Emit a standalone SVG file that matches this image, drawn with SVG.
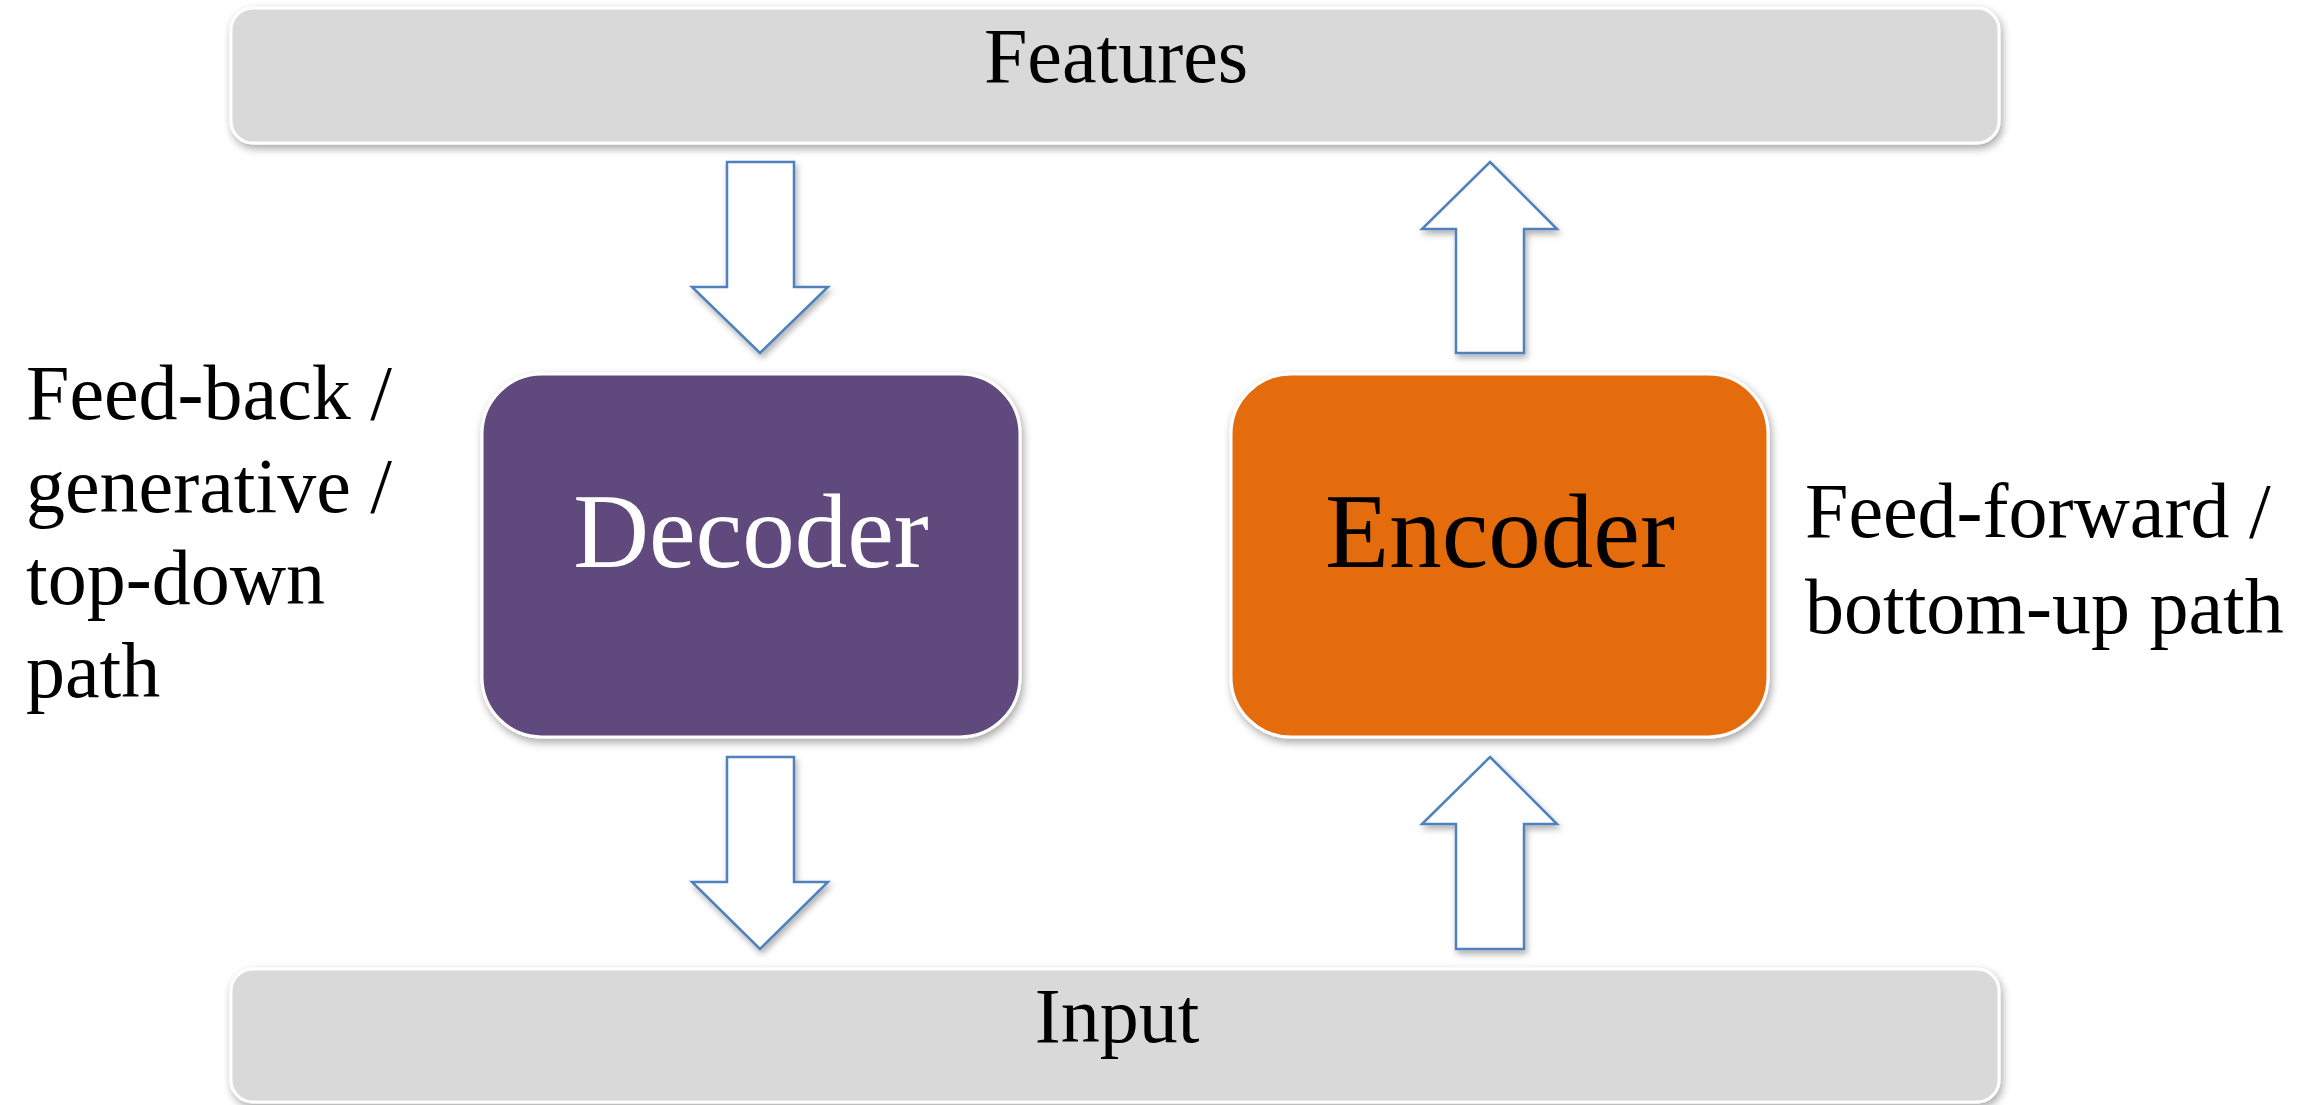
<svg xmlns="http://www.w3.org/2000/svg" width="2311" height="1105" viewBox="0 0 2311 1105">
  <defs>
    <filter id="shadow" x="-10%" y="-10%" width="120%" height="130%">
      <feDropShadow dx="2" dy="4" stdDeviation="4" flood-color="#000" flood-opacity="0.35"/>
    </filter>
    <filter id="ashadow" x="-20%" y="-10%" width="140%" height="130%">
      <feDropShadow dx="2" dy="4" stdDeviation="3" flood-color="#000" flood-opacity="0.3"/>
    </filter>
  </defs>
  <style>
    .bar { fill: #D9D9D9; stroke: #FFFFFF; stroke-width: 3; filter: url(#shadow); }
    .box { stroke: #FFFFFF; stroke-width: 3; filter: url(#shadow); }
    .arrow { fill: #FFFFFF; stroke: #4F81BD; stroke-width: 2.5; stroke-linejoin: miter; filter: url(#ashadow); }
    .lbl { font-family: "Liberation Serif", "Times New Roman", serif; font-size: 78px; fill: #000000; }
    .big { font-family: "Liberation Serif", "Times New Roman", serif; font-size: 105px; }
  </style>
  <rect width="2311" height="1105" fill="#FFFFFF"/>

  <g id="features">
    <rect class="bar" x="231" y="8" width="1768" height="135" rx="22" ry="22"/>
    <text class="lbl" x="1116" y="82" text-anchor="middle">Features</text>
  </g>

  <g id="input">
    <rect class="bar" x="231" y="969" width="1768" height="133" rx="22" ry="22"/>
    <text class="lbl" x="1117" y="1042" text-anchor="middle">Input</text>
  </g>

  <g id="decoder">
    <rect class="box" x="482" y="374" width="538" height="363" rx="60" ry="60" fill="#604A7B"/>
    <text class="big" x="751" y="567" text-anchor="middle" fill="#FFFFFF">Decoder</text>
  </g>

  <g id="encoder">
    <rect class="box" x="1231" y="374" width="537" height="363" rx="60" ry="60" fill="#E46C0A"/>
    <text class="big" x="1500" y="567" text-anchor="middle" fill="#000000">Encoder</text>
  </g>

  <g id="label-left">
    <text class="lbl" x="26" y="419">Feed-back /</text>
    <text class="lbl" x="26" y="512">generative /</text>
    <text class="lbl" x="26" y="604">top-down</text>
    <text class="lbl" x="26" y="697">path</text>
  </g>

  <g id="label-right">
    <text class="lbl" x="1805" y="537">Feed-forward /</text>
    <text class="lbl" x="1805" y="633">bottom-up path</text>
  </g>

  <g id="connectors">
    <polygon class="arrow" points="727,162 794,162 794,287 828,287 760,353 692,287 727,287"/>
    <polygon class="arrow" points="727,757 794,757 794,882 828,882 760,949 692,882 727,882"/>
    <polygon class="arrow" points="1490,162 1557,229 1524,229 1524,353 1456,353 1456,229 1422,229"/>
    <polygon class="arrow" points="1490,757 1557,824 1524,824 1524,949 1456,949 1456,824 1422,824"/>
  </g>
</svg>
